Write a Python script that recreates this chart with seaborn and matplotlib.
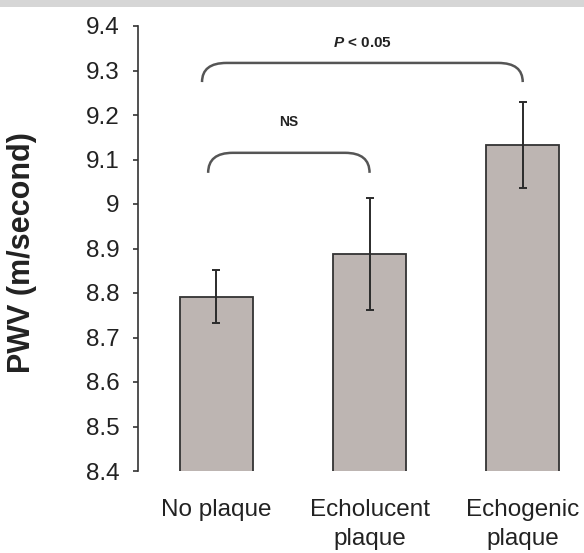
import matplotlib
matplotlib.use("Agg")
import numpy as np
import pandas as pd
import seaborn as sns
import matplotlib.pyplot as plt
from matplotlib.path import Path
from matplotlib.patches import PathPatch, Rectangle

# ---- data ----
categories = ["No plaque", "Echolucent\nplaque", "Echogenic\nplaque"]
means = [8.792, 8.888, 9.133]
errors = [0.059, 0.126, 0.096]
ytick_values = [8.4, 8.5, 8.6, 8.7, 8.8, 8.9, 9.0, 9.1, 9.2, 9.3, 9.4]
ytick_labels = ["8.4", "8.5", "8.6", "8.7", "8.8", "8.9", "9", "9.1", "9.2", "9.3", "9.4"]
ylabel = "PWV (m/second)"
comparisons = [
    (0, 2, "$P$ < 0.05"),
    (0, 1, "NS"),
]

sns.set_theme(style="white")
plt.rcParams["font.family"] = ["Liberation Sans", "DejaVu Sans"]
plt.rcParams["mathtext.fontset"] = "custom"
plt.rcParams["mathtext.it"] = "Liberation Sans:italic:bold"
plt.rcParams["mathtext.rm"] = "Liberation Sans:bold"

TXT = "#222222"

fig = plt.figure(figsize=(5.84, 5.53), dpi=100)
fig.patches.append(Rectangle((0, 1 - 7 / 553), 1, 7 / 553, transform=fig.transFigure,
                             facecolor="#d6d6d6", edgecolor="none", zorder=0))
ax = fig.add_axes([138.3 / 584, 1 - 471 / 553, 1 - 138.3 / 584, (471 - 26) / 553])

df = pd.DataFrame({"group": categories, "pwv": means})
sns.barplot(data=df, x="group", y="pwv", ax=ax, color="#bdb5b2", width=0.477,
            edgecolor="#333333", linewidth=1.3, errorbar=None, saturation=1)
ax.errorbar(np.arange(len(means)), means, yerr=errors, fmt="none", ecolor="#2b2b2b",
            elinewidth=1.4, capsize=2.6, capthick=1.4, zorder=5)

ax.set_xlim(-0.51, 2.40)
ax.set_ylim(8.4, 9.4)
ax.set_yticks(ytick_values)
ax.set_yticklabels(ytick_labels)
ax.set_xlabel("")
ax.set_ylabel(ylabel, fontsize=22, fontweight="bold", color=TXT)
ax.yaxis.set_label_coords(-0.262, 0.49)
ax.yaxis.label.set_va("center")

for s in ["top", "right", "bottom"]:
    ax.spines[s].set_visible(False)
ax.spines["left"].set_color("#333333")
ax.spines["left"].set_linewidth(1.2)
ax.tick_params(axis="y", direction="out", length=3.8, width=1.2, color="#333333",
               left=True, labelsize=17.5, pad=10, labelcolor=TXT)
ax.tick_params(axis="x", length=0, labelsize=17.5, pad=20, labelcolor=TXT)
for lab in ax.get_xticklabels():
    lab.set_linespacing(1.4)

# ---- significance brackets ----
bracket_style = [
    dict(left=-0.094, top=9.317, end=9.274, text_y=9.362, fs=11),
    dict(left=-0.054, top=9.115, end=9.070, text_y=9.184, fs=10),
]
for (i, j, label), st in zip(comparisons, bracket_style):
    x0, x1 = i + st["left"], j
    yt, ye = st["top"], st["end"]
    dx = 0.16
    path = Path([(x0, ye), (x0, yt), (x0 + dx, yt), (x1 - dx, yt), (x1, yt), (x1, ye)],
                [Path.MOVETO, Path.CURVE3, Path.CURVE3, Path.LINETO, Path.CURVE3, Path.CURVE3])
    ax.add_patch(PathPatch(path, facecolor="none", edgecolor="#555555", linewidth=1.8,
                           clip_on=False, zorder=6))
    ax.text((x0 + x1) / 2, st["text_y"], label, ha="center", va="center",
            fontsize=st["fs"], fontweight="bold", color=TXT)

fig.savefig("out.png", dpi=100)
